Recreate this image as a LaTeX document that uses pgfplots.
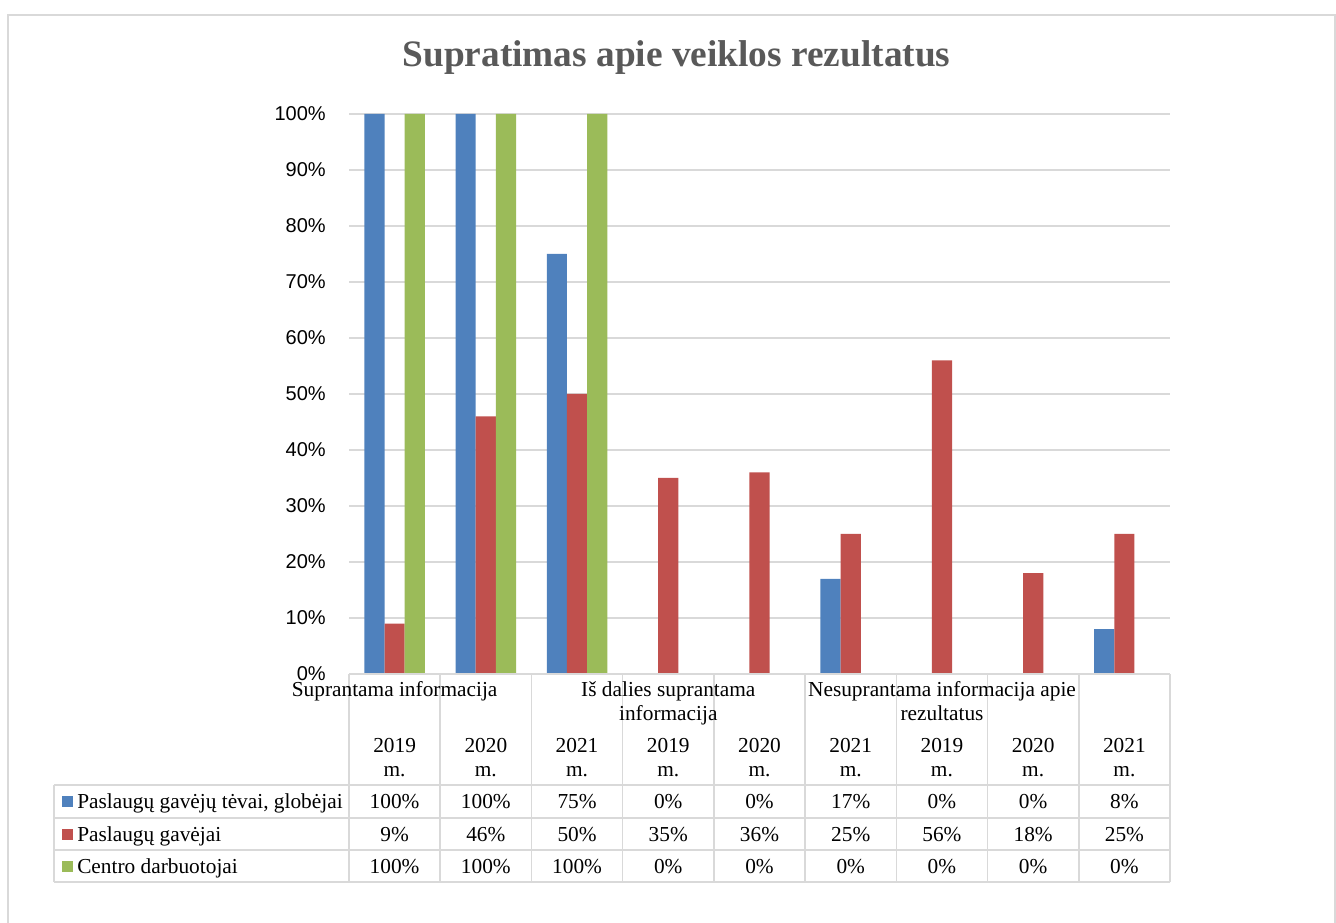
\documentclass[border=0pt]{standalone}
\usepackage{pgfplots}
\pgfplotsset{compat=1.18}
\usepackage{fontspec}
\setmainfont{Liberation Serif}
\newfontfamily\arial{Liberation Sans}
\definecolor{cA}{HTML}{4F81BD}
\definecolor{cB}{HTML}{C0504D}
\definecolor{cC}{HTML}{9BBB59}
\definecolor{gridc}{HTML}{D9D9D9}
\definecolor{titlec}{HTML}{595959}
\begin{document}
\begin{tikzpicture}
\path[use as bounding box] (0,0) rectangle (1002pt,-692.25pt);
\begin{axis}[
  at={(261.75pt,-505.5pt)}, anchor=south west,
  scale only axis, width=615.75pt, height=420pt,
  xmin=-0.5, xmax=8.5, ymin=0, ymax=100,
  ybar=0pt, bar width=15.15pt,
  axis line style={draw=none},
  tick style={draw=none},
  xtick=\empty,
  ytick={0,10,...,100},
  yticklabel={\pgfmathprintnumber{\tick}\%},
  /pgf/number format/assume math mode=true,
  yticklabel style={font=\arial\fontsize{15}{18}\selectfont, anchor=east, inner sep=0pt, xshift=-17.25pt},
  ymajorgrids, grid style={gridc, line width=1.1pt},
]
\addplot[fill=cA, draw=none] coordinates {(0,100) (1,100) (2,75) (3,0) (4,0) (5,17) (6,0) (7,0) (8,8)};
\addplot[fill=cB, draw=none] coordinates {(0,9) (1,46) (2,50) (3,35) (4,36) (5,25) (6,56) (7,18) (8,25)};
\addplot[fill=cC, draw=none] coordinates {(0,100) (1,100) (2,100) (3,0) (4,0) (5,0) (6,0) (7,0) (8,0)};
\end{axis}
\begin{scope}[x=0.75pt, y=-0.75pt]
  % outer frame
  \draw[gridc, line width=1.1pt] (8,930) -- (8,15) -- (1335,15) -- (1335,930);
  % title
  \node[anchor=base, text=titlec, font=\bfseries\fontsize{28}{33}\selectfont] at (676.5,67) {Supratimas apie veiklos rezultatus};
  % table grid
  \begin{scope}[gridc, line width=1.1pt]
    \foreach \k in {0,...,9} \draw ({349+91.222*\k},674) -- ({349+91.222*\k},882);
    \draw (349,674) -- (1170,674);
    \foreach \yy in {785,818,850,882} \draw (54,\yy) -- (1170,\yy);
    \draw (54,785) -- (54,882);
  \end{scope}
  \begin{scope}[every node/.style={anchor=base, inner sep=0pt, font=\fontsize{16}{19}\selectfont}]
    % group labels
    \node at (394.6,696) {Suprantama informacija};
    \node at (668.3,696) {Iš dalies suprantama};
    \node at (668.3,720) {informacija};
    \node at (942,696) {Nesuprantama informacija apie};
    \node at (942,720) {rezultatus};
    % years
    \foreach \yr [count=\i from 0] in {2019,2020,2021,2019,2020,2021,2019,2020,2021} {
      \node at ({349+91.222*(\i+0.5)},752) {\yr};
      \node at ({349+91.222*(\i+0.5)},776) {m.};
    }
    % values
    \foreach \v [count=\i from 0] in {100,100,75,0,0,17,0,0,8}
      \node at ({349+91.222*(\i+0.5)},808) {\v\%};
    \foreach \v [count=\i from 0] in {9,46,50,35,36,25,56,18,25}
      \node at ({349+91.222*(\i+0.5)},841) {\v\%};
    \foreach \v [count=\i from 0] in {100,100,100,0,0,0,0,0,0}
      \node at ({349+91.222*(\i+0.5)},873) {\v\%};
    % legend
    \fill[cA] (62,796) rectangle (73,807);
    \fill[cB] (62,829) rectangle (73,840);
    \fill[cC] (62,861) rectangle (73,872);
    \node[anchor=base west] at (77,808) {Paslaugų gavėjų tėvai, globėjai};
    \node[anchor=base west] at (77,841) {Paslaugų gavėjai};
    \node[anchor=base west] at (77,873) {Centro darbuotojai};
  \end{scope}
\end{scope}
\end{tikzpicture}
\end{document}
